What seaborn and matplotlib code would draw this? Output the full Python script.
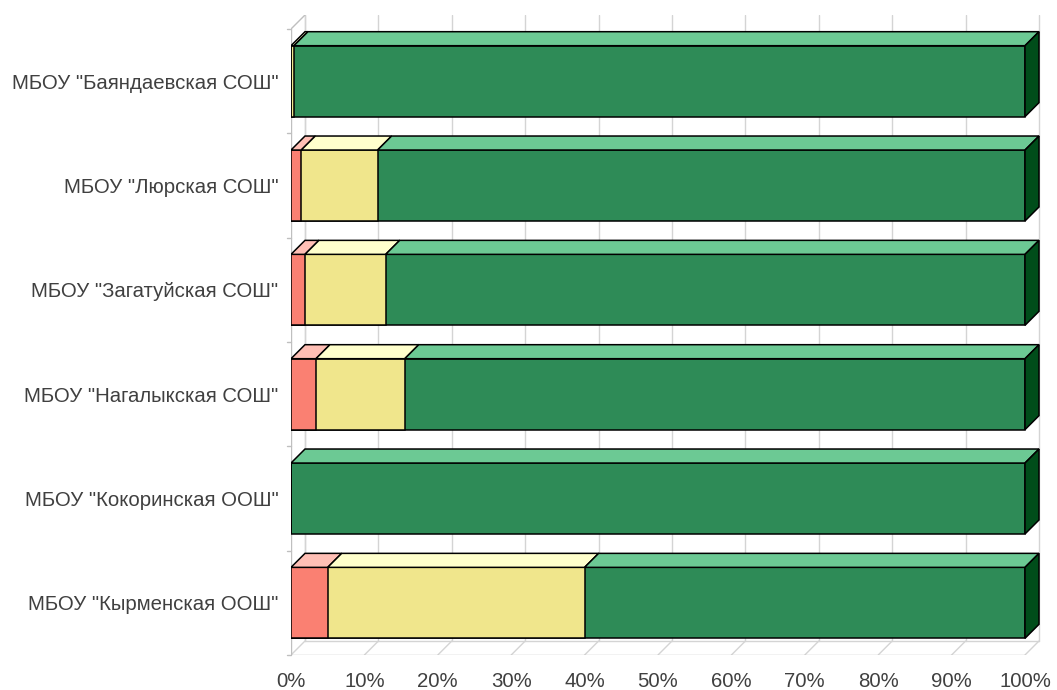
import numpy as np
import pandas as pd
import matplotlib.pyplot as plt
import seaborn as sns
from matplotlib.patches import Polygon

sns.set_style("white")
plt.rcParams['font.family'] = ['Liberation Sans', 'DejaVu Sans']

# данные (доли, %)
schools = ['МБОУ "Баяндаевская СОШ"', 'МБОУ "Люрская СОШ"', 'МБОУ "Загатуйская СОШ"',
           'МБОУ "Нагалыкская СОШ"', 'МБОУ "Кокоринская ООШ"', 'МБОУ "Кырменская ООШ"']
red_vals = [0.0, 1.4, 1.9, 3.4, 0.0, 5.0]
yellow_vals = [0.4, 10.4, 11.0, 12.1, 0.0, 35.0]
green_vals = [99.6, 88.2, 87.1, 84.5, 100.0, 60.0]
ticks = [0, 10, 20, 30, 40, 50, 60, 70, 80, 90, 100]

front = ['#FA8072', '#F0E68C', '#2E8B57']
top = ['#FFBFB5', '#FFFFCC', '#6CC994']
side = ['#C0504D', '#B8AE50', '#004D1A']

df = pd.DataFrame({'school': schools, 'red': red_vals, 'yellow': yellow_vals, 'green': green_vals})
df['c1'] = df['red']
df['c2'] = df['red'] + df['yellow']
df['c3'] = df['c2'] + df['green']

W, H = 1057, 690
fig = plt.figure(figsize=(W / 100, H / 100), dpi=100)
ax = fig.add_axes([291 / W, 35 / H, (1045 - 291) / W, 640 / H])

pxx = 7.34          # пикселей на 1 %
dx = 14 / pxx       # глубина по x
dy = 14 / 104.3     # глубина по y
bw = 0.68
tc = '#404040'
gc = '#d4d4d4'

# сетка на задней стенке и на полу
for t in ticks:
    ax.plot([t + dx, t + dx], [5.5 - dy, -0.5 - dy], color=gc, lw=1, zorder=0)
    ax.plot([t, t + dx], [5.5, 5.5 - dy], color=gc, lw=1, zorder=0)
ax.plot([0, 100], [5.5, 5.5], color='#bfbfbf', lw=1, zorder=0)
ax.plot([0, 0], [5.5, -0.5], color='#bfbfbf', lw=1, zorder=0)
ax.plot([dx, dx], [5.5 - dy, -0.5 - dy], color=gc, lw=1, zorder=0)
ax.plot([0, dx], [-0.5, -0.5 - dy], color='#bfbfbf', lw=1, zorder=0)
ax.plot([dx, 100 + dx], [5.5 - dy, 5.5 - dy], color=gc, lw=1, zorder=0)

# фронтальные грани
for col, c in zip(['c3', 'c2', 'c1'], front[::-1]):
    sns.barplot(data=df, x=col, y='school', orient='h', color=c, width=bw,
                edgecolor='black', linewidth=1.1, saturation=1, ax=ax, zorder=3)

# верхние и боковые грани
for i, row in df.iterrows():
    yt = i - bw / 2
    yb = i + bw / 2
    bounds = [0, row['c1'], row['c2'], row['c3']]
    last = max(k for k in range(3) if bounds[k + 1] > bounds[k])
    for k in range(3):
        x0, x1 = bounds[k], bounds[k + 1]
        if x1 <= x0:
            continue
        ax.add_patch(Polygon([[x0, yt], [x1, yt], [x1 + dx, yt - dy], [x0 + dx, yt - dy]],
                             closed=True, facecolor=top[k], edgecolor='black', lw=1.1, zorder=4))
        if k == last:
            ax.add_patch(Polygon([[x1, yt], [x1 + dx, yt - dy], [x1 + dx, yb - dy], [x1, yb]],
                                 closed=True, facecolor=side[k], edgecolor='black', lw=1.1, zorder=4))

ax.set_xlim(0, (1045 - 291) / pxx)
ax.set_ylim(5.5, -0.5 - dy)

for s in ax.spines.values():
    s.set_visible(False)
ax.set_xticks(ticks)
ax.set_xticklabels([f'{t}%' for t in ticks], fontsize=14.7, color=tc)
ax.set_yticks(range(len(schools)))
ax.set_yticklabels(schools, fontsize=14.7, color=tc)
ax.tick_params(axis='x', length=5, color='#bfbfbf', pad=7)
ax.tick_params(axis='y', length=0, pad=9)
for b in np.arange(-0.5, 5.6, 1):
    ax.plot([-4 / pxx, 0], [b, b], color='#bfbfbf', lw=1, clip_on=False, zorder=0)
ax.set_xlabel('')
ax.set_ylabel('')

fig.savefig('out.png', dpi=100)
